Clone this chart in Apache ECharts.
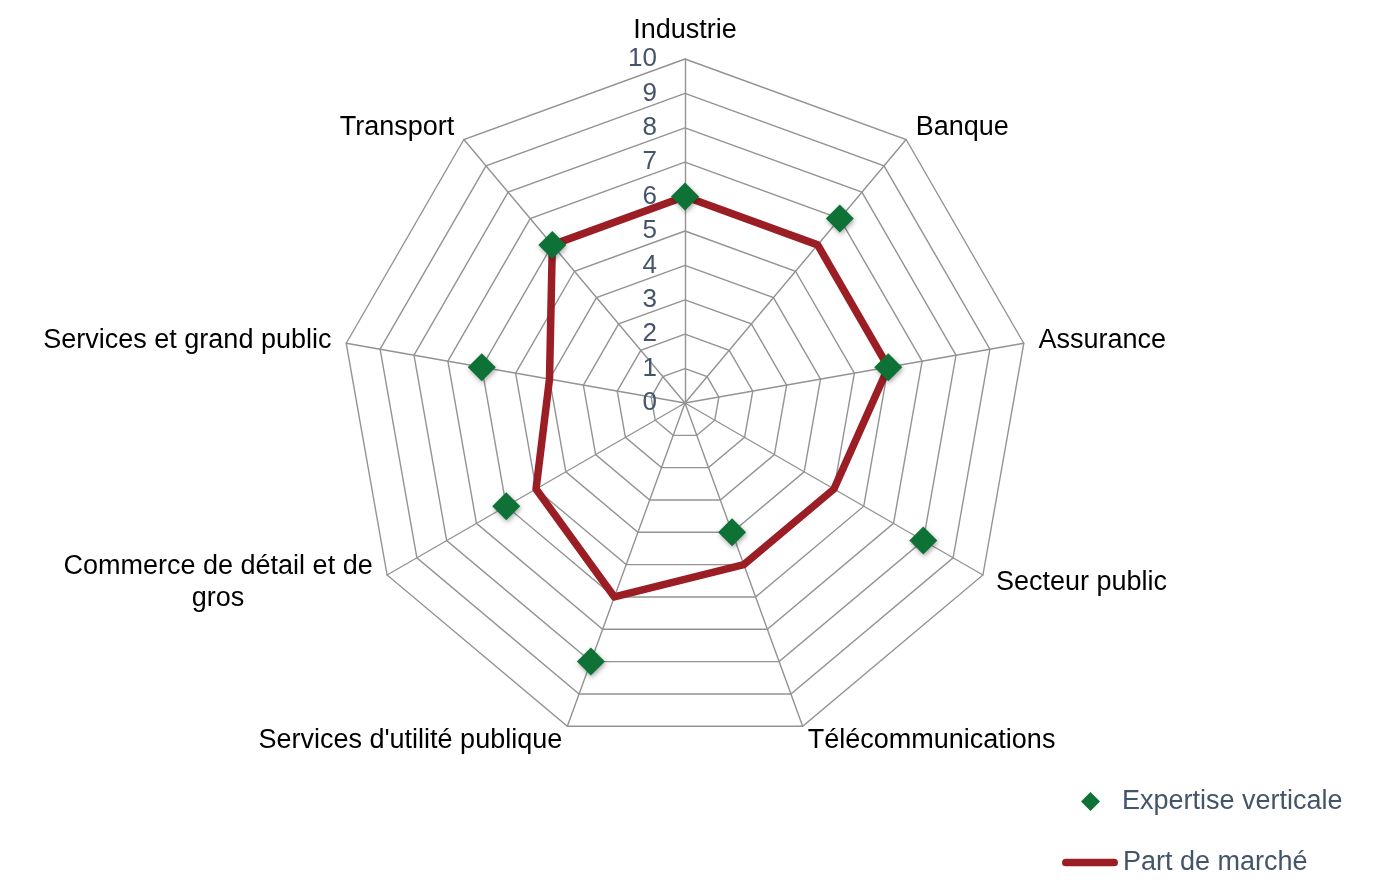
<!DOCTYPE html>
<html>
<head>
<meta charset="utf-8">
<script src="https://cdn.jsdelivr.net/npm/echarts@6/dist/echarts.min.js"></script>
<style>
html,body{margin:0;padding:0;background:#fff;}
#c{width:1373px;height:892px;}
</style>
</head>
<body>
<div id="c"></div>
<script>
const categories = ['Industrie','Banque','Assurance','Secteur public','Télécommunications',"Services d'utilité publique",'Commerce de détail et de\ngros','Services et grand public','Transport'];
const expertiseVerticale = [6,7,6,8,4,8,6,6,6];
const partDeMarche = [6,6,6,5,5,6,5,4,6];
const axisMax = 10;

const FONT = '"Liberation Sans", Arial, sans-serif';
const FS = 27;

// ECharts radar runs counter-clockwise; reorder (keep first) so categories run clockwise
const order = [0].concat(categories.map((_, i) => i).slice(1).reverse());
const reorder = arr => order.map(i => arr[i]);

const indicators = reorder(categories).map((c, i) => {
  const o = { name: c, min: 0, max: axisMax };
  if (i === 0) {
    o.axisLabel = { show: true, margin: 28, color: '#44546a', fontSize: 26, fontFamily: FONT };
  }
  return o;
});

const chart = echarts.init(document.getElementById('c'));
chart.setOption({
  animation: false,
  backgroundColor: '#fff',
  radar: {
    center: [685, 403],
    radius: 344,
    startAngle: 90,
    splitNumber: 10,
    shape: 'polygon',
    indicator: indicators,
    axisName: {
      color: '#000',
      fontSize: FS,
      fontFamily: FONT,
      formatter: function (name) {
        if (name.indexOf('\n') >= 0) {
          return name.split('\n').map(s => '{c|' + s + '}').join('\n');
        }
        return name;
      },
      rich: {
        c: { width: 312, align: 'center', fontSize: FS, fontFamily: FONT, color: '#000', lineHeight: 32 }
      }
    },
    nameGap: 15,
    axisLine: { lineStyle: { color: '#939393', width: 1.4 } },
    splitLine: { lineStyle: { color: '#939393', width: 1.4 } },
    splitArea: { show: false },
    axisTick: { show: false },
    axisLabel: { show: false }
  },
  legend: [
    {
      data: ['Expertise verticale'],
      left: 1081,
      top: 788,
      padding: 0,
      icon: 'diamond',
      itemWidth: 19,
      itemHeight: 19,
      textStyle: { color: '#44546a', fontSize: FS, fontFamily: FONT, padding: [0, 0, 0, 17] }
    },
    {
      data: ['Part de marché'],
      left: 1062,
      top: 849,
      padding: 0,
      icon: 'path://M4,0 L54,0 A4,4 0 0 1 54,8 L4,8 A4,4 0 0 1 4,0 Z',
      itemWidth: 56,
      itemHeight: 8,
      textStyle: { color: '#44546a', fontSize: FS, fontFamily: FONT }
    }
  ],
  series: [
    {
      type: 'radar',
      name: 'Part de marché',
      z: 2,
      symbol: 'none',
      lineStyle: { color: '#9b1e25', width: 7.5, join: 'round' },
      itemStyle: { color: '#9b1e25' },
      data: [{ name: 'Part de marché', value: reorder(partDeMarche) }]
    },
    {
      type: 'radar',
      name: 'Expertise verticale',
      z: 3,
      symbol: 'diamond',
      symbolSize: 28,
      lineStyle: { width: 0, opacity: 0 },
      itemStyle: { color: '#0e7236', shadowBlur: 5, shadowColor: 'rgba(0,0,0,0.35)', shadowOffsetX: 1, shadowOffsetY: 2 },
      data: [{ name: 'Expertise verticale', value: reorder(expertiseVerticale) }]
    }
  ]
});
</script>
</body>
</html>
